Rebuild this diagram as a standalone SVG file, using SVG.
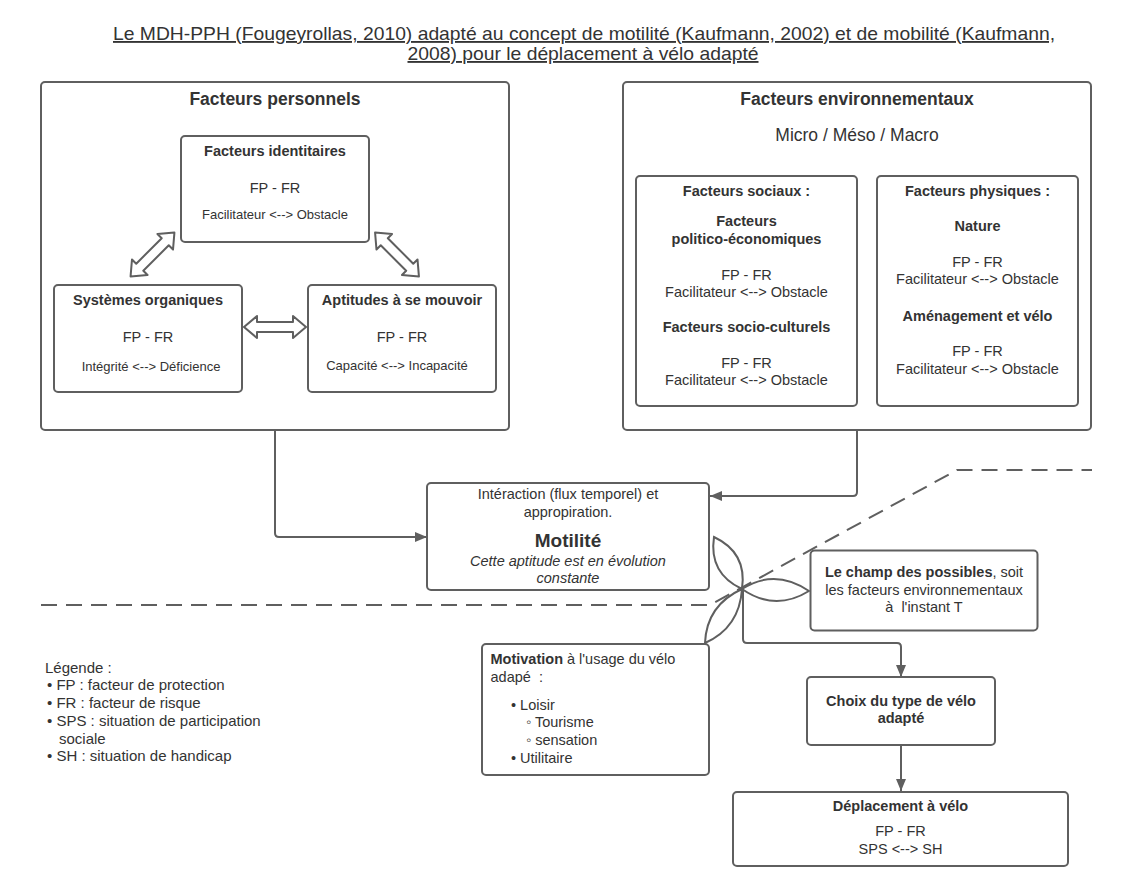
<svg xmlns="http://www.w3.org/2000/svg" xmlns:xlink="http://www.w3.org/1999/xlink" width="1131" height="886" viewBox="0 0 1131 886">
<style>
text{font-family:"Liberation Sans",Arial,"DejaVu Sans",sans-serif;fill:#333333}
.c{text-anchor:middle}
.b{font-weight:bold}
.box{fill:#ffffff;stroke:#5f5f5f;stroke-width:2}
.ln{fill:none;stroke:#5f5f5f;stroke-width:2}
.s14{font-size:14.5px}
.s15{font-size:15px}
.s13{font-size:13px}
.s17{font-size:17.5px}
</style>
<defs>
<marker id="ah" markerUnits="userSpaceOnUse" markerWidth="13" markerHeight="11" refX="12" refY="5" orient="auto">
<path d="M0,0 L12,5 L0,10 z" fill="#5f5f5f"/>
</marker>
<path id="dbl" d="M-31,0 L-18,-11 L-18,-5 L18,-5 L18,-11 L31,0 L18,11 L18,5 L-18,5 L-18,11 Z" fill="#ffffff" stroke="#5f5f5f" stroke-width="2" stroke-linejoin="round"/>
</defs>
<rect width="1131" height="886" fill="#ffffff"/>

<g id="title">
<text class="c" x="584" y="40" font-size="18.5" text-decoration="underline" textLength="942" lengthAdjust="spacingAndGlyphs">Le MDH-PPH (Fougeyrollas, 2010) adapté au concept de motilité (Kaufmann, 2002) et de mobilité (Kaufmann,</text>
<text class="c" x="583" y="60" font-size="18.5" text-decoration="underline" textLength="351" lengthAdjust="spacingAndGlyphs">2008) pour le déplacement à vélo adapté</text>
</g>

<g id="connectors">
<path class="ln" d="M275,430 V533 Q275,537 279,537 H427" marker-end="url(#ah)"/>
<path class="ln" d="M857,430 V492 Q857,496 853,496 H710" marker-end="url(#ah)"/>
<path class="ln" d="M743,589 V639 Q743,643 747,643 H897 Q901,643 901,647 V677" marker-end="url(#ah)"/>
<path class="ln" d="M901,745 V791" marker-end="url(#ah)"/>
<path class="ln" d="M41,605 H710 L957,470 H1092" stroke-dasharray="16,9"/>
<path class="ln" d="M714,537 Q747.4,552.6 742,589 Q708.6,573.4 714,537 Z"/>
<path class="ln" d="M742,589 Q775,568 809,591 Q775,612 742,589 Z"/>
<path class="ln" d="M742,589 Q739.4,627.8 705,643 Q706.6,605.2 742,589 Z"/>
<use xlink:href="#dbl" transform="translate(152.5,254.5) rotate(-45)"/>
<use xlink:href="#dbl" transform="translate(397,254.5) rotate(45)"/>
<use xlink:href="#dbl" transform="translate(275,327)"/>
</g>

<g id="facteurs-personnels">
<rect class="box" x="41" y="82" width="468" height="348" rx="4" style="fill:none"/>
<text class="c b s17" x="275" y="105">Facteurs personnels</text>
</g>

<g id="facteurs-identitaires">
<rect class="box" x="181" y="136" width="188" height="106" rx="4"/>
<text class="c b s14" x="275" y="156">Facteurs identitaires</text>
<text class="c s14" x="275" y="193">FP - FR</text>
<text class="c s13" x="275" y="219">Facilitateur &lt;--&gt; Obstacle</text>
</g>

<g id="systemes-organiques">
<rect class="box" x="54" y="285" width="188" height="107" rx="4"/>
<text class="c b s14" x="148" y="305">Systèmes organiques</text>
<text class="c s14" x="148" y="342">FP - FR</text>
<text class="c s13" x="151" y="371">Intégrité &lt;--&gt; Déficience</text>
</g>

<g id="aptitudes">
<rect class="box" x="308" y="285" width="188" height="107" rx="4"/>
<text class="c b s14" x="402" y="305">Aptitudes à se mouvoir</text>
<text class="c s14" x="402" y="342">FP - FR</text>
<text class="c s13" x="397" y="370">Capacité &lt;--&gt; Incapacité</text>
</g>

<g id="facteurs-environnementaux">
<rect class="box" x="623" y="82" width="468" height="348" rx="4" style="fill:none"/>
<text class="c b s17" x="857" y="105">Facteurs environnementaux</text>
<text class="c s17" x="857" y="141">Micro / Méso / Macro</text>
</g>

<g id="facteurs-sociaux">
<rect class="box" x="636" y="176" width="221" height="230" rx="4"/>
<text class="c b s14" x="746.5" y="196">Facteurs sociaux :</text>
<text class="c b s14" x="746.5" y="225.5">Facteurs</text>
<text class="c b s14" x="746.5" y="244">politico-économiques</text>
<text class="c s14" x="746.5" y="279.5">FP - FR</text>
<text class="c s14" x="746.5" y="297">Facilitateur &lt;--&gt; Obstacle</text>
<text class="c b s14" x="746.5" y="332">Facteurs socio-culturels</text>
<text class="c s14" x="746.5" y="367.5">FP - FR</text>
<text class="c s14" x="746.5" y="385">Facilitateur &lt;--&gt; Obstacle</text>
</g>

<g id="facteurs-physiques">
<rect class="box" x="877" y="176" width="201" height="230" rx="4"/>
<text class="c b s14" x="977.5" y="196">Facteurs physiques :</text>
<text class="c b s14" x="977.5" y="231">Nature</text>
<text class="c s14" x="977.5" y="267">FP - FR</text>
<text class="c s14" x="977.5" y="284">Facilitateur &lt;--&gt; Obstacle</text>
<text class="c b s14" x="977.5" y="320.5">Aménagement et vélo</text>
<text class="c s14" x="977.5" y="356">FP - FR</text>
<text class="c s14" x="977.5" y="373.5">Facilitateur &lt;--&gt; Obstacle</text>
</g>

<g id="motilite">
<rect class="box" x="427" y="483" width="282" height="107" rx="4"/>
<text class="c s14" x="568" y="498.5">Intéraction (flux temporel) et</text>
<text class="c s14" x="568" y="516.5">appropiration.</text>
<text class="c b" x="568" y="547" font-size="19">Motilité</text>
<text class="c s14" x="568" y="565.5" font-style="italic">Cette aptitude est en évolution</text>
<text class="c s14" x="568" y="583" font-style="italic">constante</text>
</g>

<g id="champ-des-possibles">
<rect class="box" x="810.5" y="550.5" width="227" height="80" rx="4"/>
<text class="c s14" x="924" y="576.5"><tspan class="b">Le champ des possibles</tspan>, soit</text>
<text class="c s14" x="924" y="595">les facteurs environnementaux</text>
<text class="c s14" x="924" y="612" xml:space="preserve">à  l'instant T</text>
</g>

<g id="motivation">
<rect class="box" x="482" y="644" width="227" height="131" rx="4"/>
<text class="s14" x="490.5" y="664"><tspan class="b">Motivation</tspan> à l'usage du vélo</text>
<text class="s14" x="490.5" y="682" xml:space="preserve">adapé  :</text>
<text class="s14" x="511" y="710">• Loisir</text>
<text class="s14" x="526" y="727">◦ Tourisme</text>
<text class="s14" x="526" y="745">◦ sensation</text>
<text class="s14" x="511" y="763">• Utilitaire</text>
</g>

<g id="choix">
<rect class="box" x="807" y="677" width="188" height="68" rx="4"/>
<text class="c b s14" x="901" y="705.5">Choix du type de vélo</text>
<text class="c b s14" x="901" y="723">adapté</text>
</g>

<g id="deplacement">
<rect class="box" x="733" y="792" width="335" height="74" rx="4"/>
<text class="c b s14" x="900.5" y="811">Déplacement à vélo</text>
<text class="c s14" x="900.5" y="835.5">FP - FR</text>
<text class="c s14" x="900.5" y="853.5">SPS &lt;--&gt; SH</text>
</g>

<g id="legende">
<text class="s15" x="45" y="672.5">Légende :</text>
<text class="s15" x="47" y="690">• FP : facteur de protection</text>
<text class="s15" x="47" y="707.5">• FR : facteur de risque</text>
<text class="s15" x="47" y="726">• SPS : situation de participation</text>
<text class="s15" x="59" y="744">sociale</text>
<text class="s15" x="47" y="761">• SH : situation de handicap</text>
</g>
</svg>
